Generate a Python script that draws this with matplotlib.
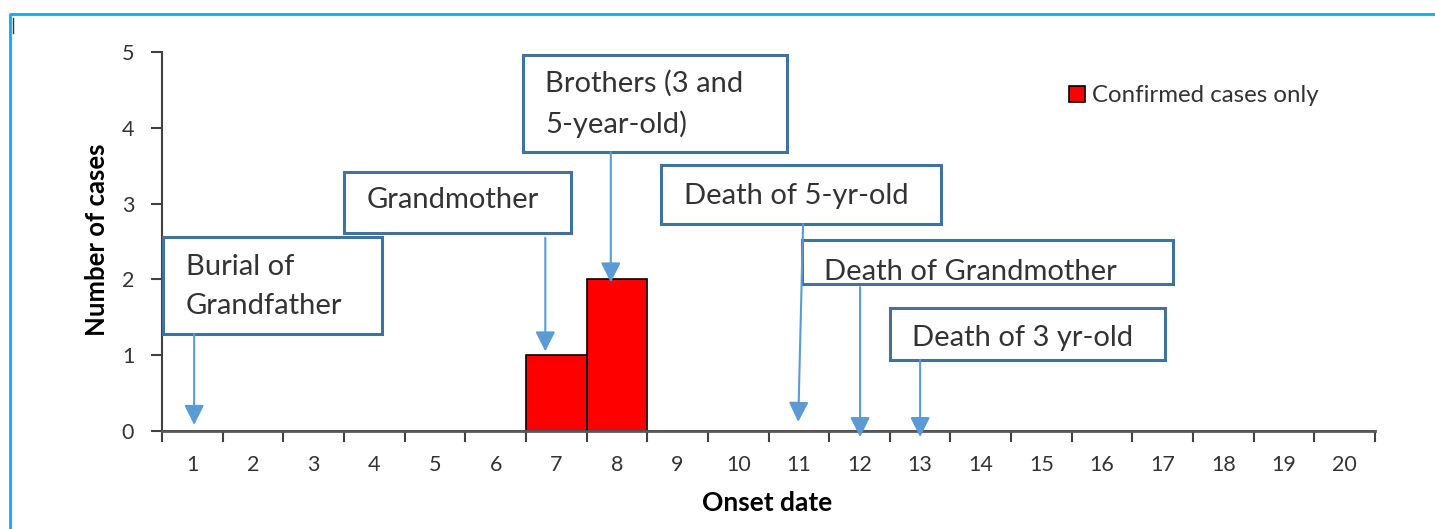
import numpy as np
import matplotlib
matplotlib.use("Agg")
import matplotlib.pyplot as plt
from matplotlib.patches import Rectangle
from matplotlib.lines import Line2D

plt.rcParams["font.family"] = ["Lato", "DejaVu Sans"]

# data
days = list(range(1, 21))
cases = [0, 0, 0, 0, 0, 0, 1, 2, 0, 0, 0, 0, 0, 0, 0, 0, 0, 0, 0, 0]
legend_label = "Confirmed cases only"

# annotated events: text, day pointed at, box (x0, x1, y0, y1) in data units, arrow start/end y
event_text = ["Burial of\nGrandfather", "Grandmother", "Brothers (3 and\n5-year-old)",
              "Death of 5-yr-old", "Death of Grandmother", "Death of 3 yr-old"]
event_day = [1.03, 6.82, 7.90, 10.99, 12.01, 13.0]
event_day_start = [1.03, 6.82, 7.90, 11.07, 12.01, 13.0]
box_x0 = [0.52, 3.50, 6.45, 8.73, 11.05, 12.50]
box_x1 = [4.13, 7.24, 10.80, 13.34, 17.17, 17.04]
box_y0 = [1.28, 2.61, 3.68, 2.73, 1.94, 0.94]
box_y1 = [2.56, 3.42, 4.96, 3.51, 2.52, 1.62]
arrow_y0 = [1.28, 2.55, 3.68, 2.73, 1.90, 0.94]
arrow_y1 = [0.08, 1.05, 1.96, 0.12, -0.08, -0.08]
text_y = [1.91, 3.05, 4.32, 3.10, 2.10, 1.23]

fig = plt.figure(figsize=(14.35, 5.29), dpi=100)
ax = fig.add_axes([162/1435, 1-431/529, 1213/1435, 379/529])

bars = ax.bar(days, cases, width=1.0, color="#ff0000", edgecolor="black", linewidth=1.2,
              label=legend_label, zorder=2)

ax.set_xlim(0.5, 20.5)
ax.set_ylim(0, 5)
ax.set_xticks(days)
ax.set_xticklabels([str(d) for d in days])
ax.set_xticks(np.arange(0.5, 21, 1), minor=True)
ax.tick_params(axis="x", which="major", length=0, pad=17, labelsize=15.5, labelcolor="#333333")
ax.tick_params(axis="x", which="minor", length=8, width=1.5, color="#404040", direction="out")
ax.set_yticks([0, 1, 2, 3, 4, 5])
ax.tick_params(axis="y", length=8, width=1.5, color="#404040", pad=12, labelsize=15.5, labelcolor="#333333")
ax.spines["top"].set_visible(False)
ax.spines["right"].set_visible(False)
ax.spines["left"].set_color("#404040")
ax.spines["left"].set_linewidth(1.5)
ax.spines["bottom"].set_color("#595959")
ax.spines["bottom"].set_linewidth(2)
ax.spines["bottom"].set_zorder(3)

fig.text(97/1435, 1-240/529, "Number of cases", rotation=90, ha="center", va="center",
         fontsize=18.5, fontweight="bold")
fig.text(767/1435, 1-503/529, "Onset date", ha="center", va="center",
         fontsize=19, fontweight="bold")

# event boxes and arrows
for i in range(len(event_text)):
    r = Rectangle((box_x0[i], box_y0[i]), box_x1[i]-box_x0[i], box_y1[i]-box_y0[i],
                  facecolor="white", edgecolor="#41719c", linewidth=2.2, zorder=4, clip_on=False)
    ax.add_patch(r)
    ax.text(box_x0[i] + 0.37, text_y[i], event_text[i], ha="left", va="center", fontsize=21,
            color="#333333", linespacing=1.6, zorder=5)
    ax.annotate("", xy=(event_day[i], arrow_y1[i]), xytext=(event_day_start[i], arrow_y0[i]),
                arrowprops=dict(arrowstyle="-|>,head_length=0.8,head_width=0.4", color="#5b9bd5",
                                lw=1.5, shrinkA=0, shrinkB=0, mutation_scale=15),
                zorder=6, annotation_clip=False)

ax.legend(loc="center left", bbox_to_anchor=(0.748, 0.884), frameon=False, fontsize=17.3,
          handlelength=0.65, handleheight=0.65, handletextpad=0.3, borderpad=0, borderaxespad=0,
          labelcolor="#333333")

# outer frame
fig.add_artist(Line2D([10/1435, 10/1435, 1.0], [0.0, 1-14/529, 1-14/529],
                      transform=fig.transFigure, color="#00b0f0", linewidth=2))
fig.add_artist(Line2D([13/1435, 13/1435], [1-18/529, 1-33/529],
                      transform=fig.transFigure, color="#333333", linewidth=1))

fig.savefig("out.png", dpi=100)
